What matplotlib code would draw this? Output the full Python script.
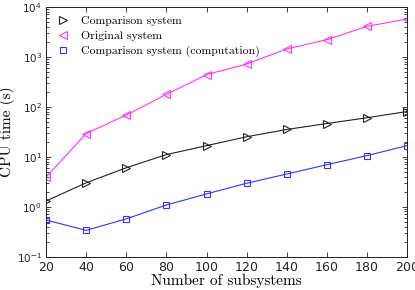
import numpy as np
import matplotlib
matplotlib.use("Agg")
import matplotlib.pyplot as plt
from matplotlib.ticker import LogLocator, NullFormatter

plt.rcParams['mathtext.fontset'] = 'custom'
plt.rcParams['mathtext.rm'] = 'Liberation Sans'
plt.rcParams['mathtext.it'] = 'Liberation Sans'
plt.rcParams['axes.formatter.use_mathtext'] = True

n_sub = [20, 40, 60, 80, 100, 120, 140, 160, 180, 200]
comparison = [1.3, 3.0, 6.0, 11, 16.6, 25, 35, 46, 60, 80]
original = [3.9, 29, 68, 176, 437, 714, 1425, 2190, 4040, 5670]
comparison_comp = [0.54, 0.336, 0.57, 1.08, 1.8, 2.94, 4.5, 6.9, 10.5, 16.6]

fig = plt.figure(figsize=(4.15, 2.9), dpi=100)
ax = fig.add_axes([0.111, 0.115, 0.870, 0.862])

ax.plot(n_sub, comparison, color='#222222', lw=0.8, marker='>', ms=6,
        mfc='none', mew=0.8, label='Comparison system')
ax.plot(n_sub, original, color='#ff33ff', lw=0.8, marker='<', ms=6,
        mfc='none', mew=0.8, label='Original system')
ax.plot(n_sub, comparison_comp, color='#3333ff', lw=0.8, marker='s', ms=4,
        mfc='none', mew=0.8, label='Comparison system (computation)')

ax.set_yscale('log')
ax.set_xlim(20, 200)
ax.set_ylim(0.1, 1e4)
ax.set_xticks(np.arange(20, 201, 20))
ax.yaxis.set_major_locator(LogLocator(base=10, numticks=10))
ax.yaxis.set_minor_locator(LogLocator(base=10, subs=np.arange(2, 10), numticks=20))
ax.yaxis.set_minor_formatter(NullFormatter())
ax.tick_params(which='both', direction='in', top=True, right=True,
               width=0.6, colors='#222222')
ax.tick_params(axis='x', labelsize=9)
ax.tick_params(axis='y', labelsize=7.5)
ax.tick_params(which='major', length=3.5, pad=3)
ax.tick_params(which='minor', length=2)
for s in ax.spines.values():
    s.set_linewidth(0.7)
    s.set_color('#222222')

ax.set_xlabel('Number of subsystems', family='cmr10', fontsize=11, labelpad=0)
ax.set_ylabel('CPU time (s)', family='cmr10', fontsize=11)
ax.yaxis.set_label_coords(-0.085, 0.5)

leg = ax.legend(loc='upper left', frameon=False, prop={'family': 'cmr10', 'size': 8.5},
                handlelength=1.2, handletextpad=1.0, labelspacing=0.4,
                borderaxespad=0.4)
for h in leg.legend_handles:
    h.set_linestyle('none')

fig.savefig('out.png', dpi=100)
